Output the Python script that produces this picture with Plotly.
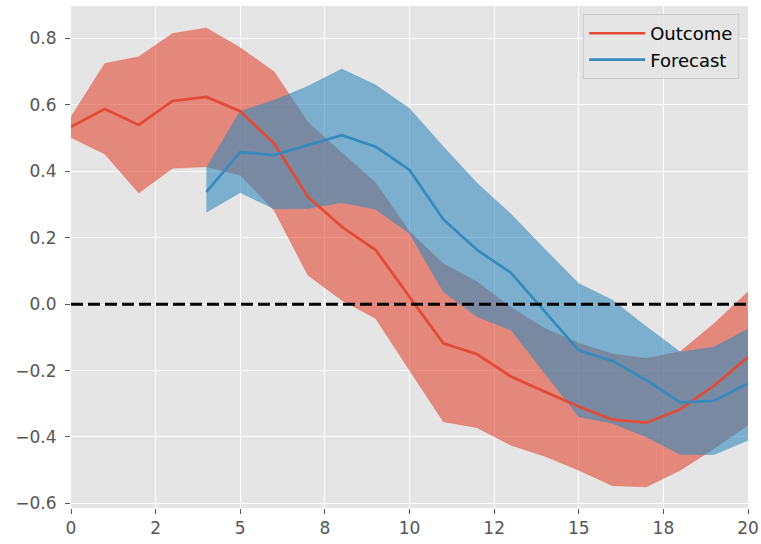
import plotly.graph_objects as go

# ---- data ----
steps = list(range(21))
outcome = [0.534, 0.588, 0.540, 0.612, 0.624, 0.581, 0.484, 0.323, 0.233, 0.163, 0.022,
           -0.118, -0.151, -0.218, -0.264, -0.308, -0.348, -0.357, -0.317, -0.245, -0.159]
outcome_upper = [0.564, 0.725, 0.745, 0.815, 0.832, 0.772, 0.700, 0.548, 0.455, 0.366, 0.218,
                 0.122, 0.067, -0.010, -0.073, -0.118, -0.150, -0.164, -0.143, -0.058, 0.037]
outcome_lower = [0.502, 0.452, 0.335, 0.409, 0.414, 0.388, 0.283, 0.087, 0.012, -0.043, -0.199,
                 -0.354, -0.372, -0.425, -0.458, -0.500, -0.547, -0.550, -0.500, -0.435, -0.364]

forecast_steps = list(range(4, 21))
forecast = [0.338, 0.458, 0.449, 0.479, 0.509, 0.474, 0.404, 0.255, 0.163, 0.094, -0.022,
            -0.139, -0.171, -0.229, -0.296, -0.291, -0.239]
forecast_upper = [0.411, 0.581, 0.614, 0.656, 0.708, 0.660, 0.589, 0.474, 0.364, 0.271, 0.165,
                  0.062, 0.012, -0.068, -0.144, -0.129, -0.075]
forecast_lower = [0.277, 0.336, 0.287, 0.288, 0.306, 0.286, 0.213, 0.037, -0.038, -0.078, -0.209,
                  -0.339, -0.359, -0.400, -0.453, -0.453, -0.410]

x_tickvals = [0, 2.5, 5, 7.5, 10, 12.5, 15, 17.5, 20]
x_ticktext = ["0", "2", "5", "8", "10", "12", "15", "18", "20"]
y_tickvals = [-0.6, -0.4, -0.2, 0.0, 0.2, 0.4, 0.6, 0.8]
y_ticktext = ["\u22120.6", "\u22120.4", "\u22120.2", "0.0", "0.2", "0.4", "0.6", "0.8"]

RED = "#E24A33"
BLUE = "#348ABD"
RED_FILL = "rgba(226,74,51,0.6)"
BLUE_FILL = "rgba(52,138,189,0.6)"

fig = go.Figure()

# outcome band
fig.add_trace(go.Scatter(x=steps, y=outcome_upper, mode="lines",
                         line=dict(width=0.5, color=RED_FILL), showlegend=False, hoverinfo="skip"))
fig.add_trace(go.Scatter(x=steps, y=outcome_lower, mode="lines", fill="tonexty",
                         fillcolor=RED_FILL, line=dict(width=0.5, color=RED_FILL),
                         showlegend=False, hoverinfo="skip"))
# forecast band
fig.add_trace(go.Scatter(x=forecast_steps, y=forecast_upper, mode="lines",
                         line=dict(width=0.5, color=BLUE_FILL), showlegend=False, hoverinfo="skip"))
fig.add_trace(go.Scatter(x=forecast_steps, y=forecast_lower, mode="lines", fill="tonexty",
                         fillcolor=BLUE_FILL, line=dict(width=0.5, color=BLUE_FILL),
                         showlegend=False, hoverinfo="skip"))

fig.add_trace(go.Scatter(x=steps, y=outcome, mode="lines", name="Outcome",
                         line=dict(color=RED, width=2.7)))
fig.add_trace(go.Scatter(x=forecast_steps, y=forecast, mode="lines", name="Forecast",
                         line=dict(color=BLUE, width=2.7)))

# zero line
fig.add_trace(go.Scatter(x=[steps[0], steps[-1]], y=[0, 0], mode="lines",
                         line=dict(color="black", width=3, dash="12px,5px"),
                         showlegend=False, hoverinfo="skip"))

fig.update_layout(
    width=761, height=544,
    margin=dict(l=71, r=13, t=6, b=36),
    paper_bgcolor="white",
    plot_bgcolor="#E5E5E5",
    font=dict(family="DejaVu Sans", size=17, color="#555555"),
    legend=dict(x=0.987, y=0.984, xanchor="right", yanchor="top", traceorder="normal",
                itemwidth=56,
                bgcolor="rgba(229,229,229,0.8)", bordercolor="#CCCCCC", borderwidth=1,
                font=dict(size=18, color="black")),
)
fig.update_xaxes(range=[0, 20], tickmode="array", tickvals=x_tickvals, ticktext=x_ticktext,
                 showgrid=True, gridcolor="white", gridwidth=1.3, zeroline=False,
                 ticks="outside", ticklen=5, tickwidth=1.3, tickcolor="#555555",
                 showline=False, automargin=False)
fig.update_yaxes(range=[-0.614, 0.898], tickmode="array", tickvals=y_tickvals, ticktext=y_ticktext,
                 showgrid=True, gridcolor="white", gridwidth=1.3, zeroline=False,
                 ticks="outside", ticklen=5, tickwidth=1.3, tickcolor="#555555",
                 ticklabelstandoff=5,
                 showline=False, automargin=False)

fig.write_html("out.html", config={"displayModeBar": False},
               post_script="document.body.style.margin='0';")
